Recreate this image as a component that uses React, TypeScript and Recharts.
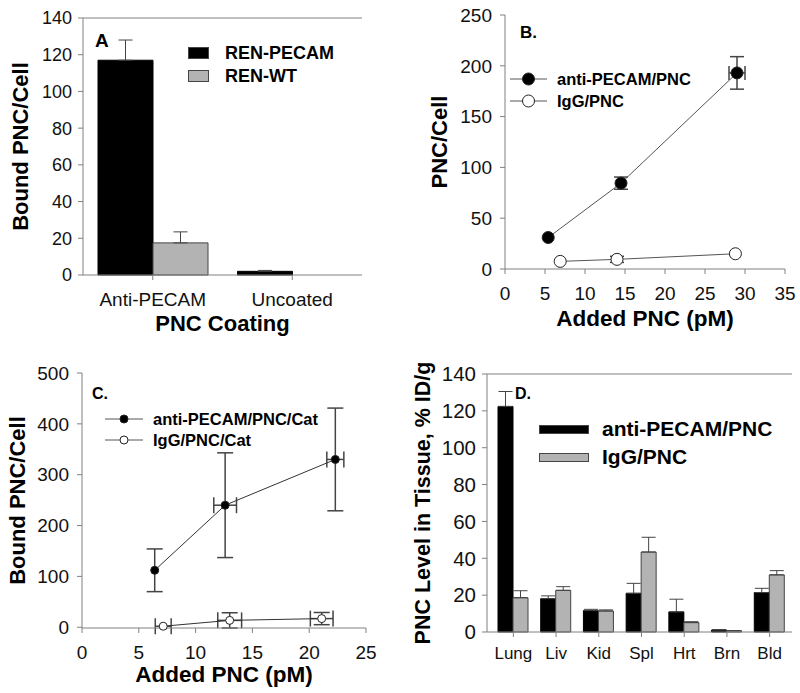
import React from "react";
import {
  BarChart,
  Bar,
  ScatterChart,
  Scatter,
  XAxis,
  YAxis,
  ErrorBar,
  ReferenceLine,
} from "recharts";

const FONT = '"Liberation Sans", Arial, Helvetica, sans-serif';
const AXIS = "#808080";
const ERR = "#444";
const GRAY = "#b3b3b3";
const TXT = "#111";

// --- A: binding to REN cells by coating
const coatings = ["Anti-PECAM", "Uncoated"];
const renPecam = [117, 2];
const renPecamErr = [11, 0.5];
const renWt = [17.5, 0];
const renWtErr = [6, 0];
const ticksA = [0, 20, 40, 60, 80, 100, 120, 140];

// --- B: dose curve
const bAntiX = [5.4, 14.5, 29.0];
const bAntiY = [31, 84.5, 193];
const bAntiXErr = [0, 0, 1];
const bAntiYErr = [0, 6, 16];
const bIgGX = [6.9, 14.0, 28.8];
const bIgGY = [7.5, 9.5, 15];
const bIgGXErr = [0, 0, 0];
const bIgGYErr = [0, 3, 0];
const ticksBx = [0, 5, 10, 15, 20, 25, 30, 35];
const ticksBy = [0, 50, 100, 150, 200, 250];

// --- C: dose curve, catalase loaded
const cAntiX = [6.4, 12.6, 22.3];
const cAntiY = [112, 240, 330];
const cAntiXErr = [0, 1.0, 0.75];
const cAntiYErr = [42, 103, 101];
const cIgGX = [7.15, 13.0, 21.1];
const cIgGY = [2, 13.5, 17];
const cIgGXErr = [0.7, 1.05, 1.0];
const cIgGYErr = [0, 15, 12];
const ticksCx = [0, 5, 10, 15, 20, 25];
const ticksCy = [0, 100, 200, 300, 400, 500];

// --- D: tissue distribution
const tissues = ["Lung", "Liv", "Kid", "Spl", "Hrt", "Brn", "Bld"];
const antiD = [122.4, 18.1, 11.6, 21, 10.9, 1.1, 21.4];
const antiDErr = [8.1, 1.5, 0.7, 5.4, 6.9, 0.2, 2.3];
const igD = [18.6, 22.6, 11.4, 43.4, 5.1, 0.7, 31];
const igDErr = [3.8, 2, 0.6, 8, 0.5, 0.1, 2.3];

// upper-only error bar, 0 = none
const up = (e: number) => (e ? [0, e] : 0);

const dataA = coatings.map((c, i) => ({
  name: c,
  pecam: renPecam[i],
  pecamErr: up(renPecamErr[i]),
  wt: renWt[i],
  wtErr: up(renWtErr[i]),
}));

const dataD = tissues.map((t, i) => ({
  name: t,
  anti: antiD[i],
  antiErr: up(antiDErr[i]),
  igg: igD[i],
  iggErr: up(igDErr[i]),
}));

const pts = (xs: number[], ys: number[], ex: number[], ey: number[]) =>
  xs.map((x, i) => ({ x, y: ys[i], ex: ex[i], ey: ey[i] }));

const dot = (r: number, filled: boolean) => (p: any) =>
  (
    <circle
      cx={p.cx}
      cy={p.cy}
      r={r}
      fill={filled ? "#000" : "#fff"}
      stroke="#222"
      strokeWidth={1}
    />
  );

function yLabel(value: string, offset: number, size: number) {
  return {
    value,
    angle: -90,
    position: "insideLeft" as const,
    offset,
    style: { textAnchor: "middle", fontSize: size, fontWeight: 700, fill: "#000" },
  };
}

function xLabel(value: string, offset: number, size: number) {
  return {
    value,
    position: "insideBottom" as const,
    offset,
    style: { textAnchor: "middle", fontSize: size, fontWeight: 700, fill: "#000" },
  };
}

function RectSwatch({ w, h, fill }: { w: number; h: number; fill: string }) {
  return (
    <svg width={w} height={h} style={{ display: "block" }}>
      <rect x={0.5} y={0.5} width={w - 1} height={h - 1} fill={fill} stroke="#444" />
    </svg>
  );
}

function LineSwatch({ w, r, filled }: { w: number; r: number; filled: boolean }) {
  const h = r * 2 + 2;
  return (
    <svg width={w} height={h} style={{ display: "block" }}>
      <line x1={0} y1={h / 2} x2={w} y2={h / 2} stroke="#555" />
      <circle cx={w / 2} cy={h / 2} r={r} fill={filled ? "#000" : "#fff"} stroke="#222" />
    </svg>
  );
}

function Row({
  left,
  cy,
  gap,
  size,
  swatch,
  label,
}: {
  left: number;
  cy: number;
  gap: number;
  size: number;
  swatch: React.ReactNode;
  label: string;
}) {
  return (
    <div
      style={{
        position: "absolute",
        left,
        top: cy - 15,
        height: 30,
        display: "flex",
        alignItems: "center",
        gap,
        fontSize: size,
        fontWeight: 700,
        color: "#000",
        whiteSpace: "nowrap",
      }}
    >
      {swatch}
      <span>{label}</span>
    </div>
  );
}

function Tag({ left, top, size, text }: { left: number; top: number; size: number; text: string }) {
  return (
    <div
      style={{
        position: "absolute",
        left,
        top,
        fontSize: size,
        fontWeight: 700,
        lineHeight: 1,
        color: "#000",
      }}
    >
      {text}
    </div>
  );
}

const axisProps = {
  stroke: AXIS,
  tickLine: { stroke: AXIS },
  tickSize: 5,
};

export default function App() {
  return (
    <div
      style={{
        position: "absolute",
        left: 0,
        top: 0,
        width: 800,
        height: 693,
        background: "#fff",
        fontFamily: FONT,
        overflow: "hidden",
      }}
    >
      {/* A */}
      <div style={{ position: "absolute", left: 0, top: 0 }}>
        <BarChart
          width={400}
          height={340}
          data={dataA}
          margin={{ top: 18, right: 38, left: 0, bottom: 5 }}
          barCategoryGap={15}
          barGap={0}
        >
          <XAxis
            dataKey="name"
            {...axisProps}
            tickMargin={13}
            height={60}
            tick={{ fontSize: 19, fill: TXT }}
            label={xLabel("PNC Coating", 4, 22)}
          />
          <YAxis
            domain={[0, 140]}
            ticks={ticksA}
            {...axisProps}
            tickMargin={6}
            width={83}
            tick={{ fontSize: 18, fill: TXT }}
            label={yLabel("Bound PNC/Cell", 20, 22)}
          />
          <YAxis yAxisId="r" orientation="right" domain={[0, 140]} width={0} stroke={AXIS} tick={false} tickLine={false} />
          <ReferenceLine y={140} stroke={AXIS} />
          <Bar dataKey="pecam" fill="#000" stroke="#000" isAnimationActive={false}>
            <ErrorBar dataKey="pecamErr" width={7} stroke={ERR} strokeWidth={1} />
          </Bar>
          <Bar dataKey="wt" fill={GRAY} stroke="#444" isAnimationActive={false}>
            <ErrorBar dataKey="wtErr" width={7} stroke={ERR} strokeWidth={1} />
          </Bar>
        </BarChart>
      </div>
      <Tag left={95} top={31} size={19} text="A" />
      <Row left={188} cy={53} gap={16} size={18} swatch={<RectSwatch w={21} h={12} fill="#000" />} label="REN-PECAM" />
      <Row left={188} cy={76} gap={16} size={18} swatch={<RectSwatch w={21} h={12} fill={GRAY} />} label="REN-WT" />

      {/* B */}
      <div style={{ position: "absolute", left: 400, top: 0 }}>
        <ScatterChart width={400} height={340} margin={{ top: 15, right: 15, left: 0, bottom: 5 }}>
          <XAxis
            type="number"
            dataKey="x"
            domain={[0, 35]}
            ticks={ticksBx}
            {...axisProps}
            tickMargin={13}
            height={66}
            tick={{ fontSize: 19, fill: TXT }}
            label={xLabel("Added PNC (pM)", 9, 22.5)}
          />
          <YAxis
            type="number"
            dataKey="y"
            domain={[0, 250]}
            ticks={ticksBy}
            {...axisProps}
            tickMargin={8}
            width={105}
            tick={{ fontSize: 19, fill: TXT }}
            label={yLabel("PNC/Cell", 39, 22)}
          />
          <Scatter
            data={pts(bIgGX, bIgGY, bIgGXErr, bIgGYErr)}
            line={{ stroke: "#555", strokeWidth: 1 }}
            shape={dot(6, false)}
            isAnimationActive={false}
          >
            <ErrorBar dataKey="ey" direction="y" width={7} stroke={ERR} />
            <ErrorBar dataKey="ex" direction="x" width={7} stroke={ERR} />
          </Scatter>
          <Scatter
            data={pts(bAntiX, bAntiY, bAntiXErr, bAntiYErr)}
            line={{ stroke: "#555", strokeWidth: 1 }}
            shape={dot(6, true)}
            isAnimationActive={false}
          >
            <ErrorBar dataKey="ey" direction="y" width={7} stroke={ERR} />
            <ErrorBar dataKey="ex" direction="x" width={7} stroke={ERR} />
          </Scatter>
        </ScatterChart>
      </div>
      <Tag left={520} top={24} size={17} text="B." />
      <Row left={510} cy={79} gap={10} size={16.5} swatch={<LineSwatch w={37} r={6} filled />} label="anti-PECAM/PNC" />
      <Row left={510} cy={101} gap={10} size={16.5} swatch={<LineSwatch w={37} r={6} filled={false} />} label="IgG/PNC" />

      {/* C */}
      <div style={{ position: "absolute", left: 0, top: 340 }}>
        <ScatterChart width={400} height={353} margin={{ top: 33, right: 34, left: 0, bottom: 5 }}>
          <XAxis
            type="number"
            dataKey="x"
            domain={[0, 25]}
            ticks={ticksCx}
            {...axisProps}
            tickMargin={13}
            height={60}
            tick={{ fontSize: 19, fill: TXT }}
            label={xLabel("Added PNC (pM)", 6, 22.5)}
          />
          <YAxis
            type="number"
            dataKey="y"
            domain={[0, 500]}
            ticks={ticksCy}
            {...axisProps}
            tickMargin={8}
            width={82}
            tick={{ fontSize: 19, fill: TXT }}
            label={yLabel("Bound PNC/Cell", 17, 22)}
          />
          <Scatter
            data={pts(cIgGX, cIgGY, cIgGXErr, cIgGYErr)}
            line={{ stroke: "#333", strokeWidth: 1 }}
            shape={dot(4, false)}
            isAnimationActive={false}
          >
            <ErrorBar dataKey="ey" direction="y" width={8} stroke={ERR} />
            <ErrorBar dataKey="ex" direction="x" width={8} stroke={ERR} />
          </Scatter>
          <Scatter
            data={pts(cAntiX, cAntiY, cAntiXErr, cAntiYErr)}
            line={{ stroke: "#333", strokeWidth: 1 }}
            shape={dot(4, true)}
            isAnimationActive={false}
          >
            <ErrorBar dataKey="ey" direction="y" width={8} stroke={ERR} />
            <ErrorBar dataKey="ex" direction="x" width={8} stroke={ERR} />
          </Scatter>
        </ScatterChart>
      </div>
      <Tag left={92} top={386} size={16} text="C." />
      <Row left={105} cy={419} gap={10} size={16.5} swatch={<LineSwatch w={38} r={4} filled />} label="anti-PECAM/PNC/Cat" />
      <Row left={105} cy={440} gap={10} size={16.5} swatch={<LineSwatch w={38} r={4} filled={false} />} label="IgG/PNC/Cat" />

      {/* D */}
      <div style={{ position: "absolute", left: 400, top: 340 }}>
        <BarChart
          width={400}
          height={353}
          data={dataD}
          margin={{ top: 34, right: 8, left: 0, bottom: 5 }}
          barCategoryGap={6}
          barGap={0}
        >
          <XAxis
            dataKey="name"
            {...axisProps}
            tickMargin={10}
            height={56}
            padding={{ left: 5, right: 1 }}
            tick={{ fontSize: 17, fill: TXT }}
          />
          <YAxis
            domain={[0, 140]}
            ticks={ticksA}
            {...axisProps}
            tickMargin={6}
            width={87}
            tick={{ fontSize: 20.5, fill: TXT }}
            label={yLabel("PNC Level in Tissue, % ID/g", 22, 21.5)}
          />
          <YAxis yAxisId="r" orientation="right" domain={[0, 140]} width={0} stroke={AXIS} tick={false} tickLine={false} />
          <ReferenceLine y={140} stroke={AXIS} />
          <Bar dataKey="anti" fill="#000" stroke="#000" isAnimationActive={false}>
            <ErrorBar dataKey="antiErr" width={7} stroke={ERR} strokeWidth={1} />
          </Bar>
          <Bar dataKey="igg" fill={GRAY} stroke="#444" isAnimationActive={false}>
            <ErrorBar dataKey="iggErr" width={7} stroke={ERR} strokeWidth={1} />
          </Bar>
        </BarChart>
      </div>
      <Tag left={515} top={386} size={16} text="D." />
      <Row left={539} cy={429} gap={13} size={21} swatch={<RectSwatch w={50} h={9} fill="#000" />} label="anti-PECAM/PNC" />
      <Row left={539} cy={457} gap={13} size={21} swatch={<RectSwatch w={50} h={9} fill={GRAY} />} label="IgG/PNC" />
    </div>
  );
}
